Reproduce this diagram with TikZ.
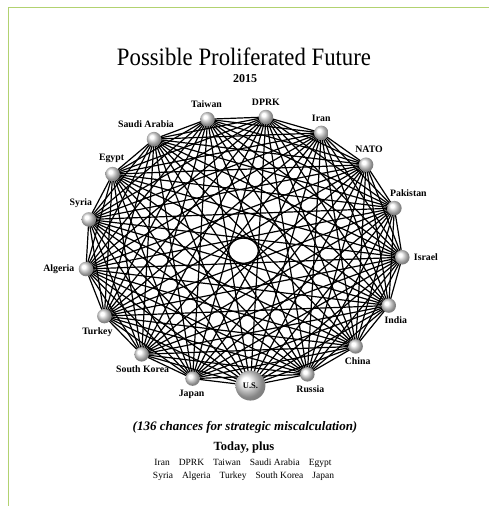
\documentclass[tikz,border=0pt]{standalone}
\usepackage{fontspec}
\setmainfont{Liberation Serif}
\usetikzlibrary{positioning,backgrounds}
\definecolor{frameGreen}{RGB}{178,210,112}
\pgfdeclareradialshading{orbshade}{\pgfpoint{-9bp}{9bp}}{%
  color(0bp)=(white); color(6bp)=(white); color(16bp)=(gray!55);
  color(24bp)=(gray!95); color(50bp)=(gray!70!black)}
\tikzset{
  orb/.style={circle, shading=orbshade, minimum size=14.5pt, inner sep=0pt},
  bigorb/.style={orb, minimum size=30pt, font=\fontsize{8.5}{9}\selectfont\bfseries},
  tag/.style={font=\fontsize{9.8}{11}\selectfont\bfseries, inner sep=2pt,
              label distance=2pt},
  lnk/.style={line width=1.2pt, black},
  heading/.style={anchor=base, inner sep=0pt},
}

\begin{document}
\begin{tikzpicture}[x=1pt, y=-1pt]
  \useasboundingbox (0,0) rectangle (489,506);
  % frame
  \draw[frameGreen, line width=1.6pt] (489,7.5) -- (8.5,7.5) -- (8.5,506);
  % titles
  \node[heading, xscale=0.91, font=\fontsize{25}{28}\selectfont] (title) at (244,65)
    {Possible Proliferated Future};
  \node[heading, font=\fontsize{12}{14}\selectfont\bfseries] (year) at (245,82) {2015};
  % the players
  \node[bigorb] (n0) at ({243.5+159*cos(-87.5)},{250.7-135*sin(-87.5)}) {U.S.};
  \foreach \lab/\side/\dx [count=\k] in {Russia/below/3, China/below/2,
      India/below/7, Israel/right/0, Pakistan/above/14, NATO/above/3,
      Iran/above/0, DPRK/above/0, Taiwan/above/-1, Saudi Arabia/above/-8,
      Egypt/above/-1, Syria/above/-8, Algeria/left/0, Turkey/below/-7,
      South Korea/below/1, Japan/below/-1} {
    \pgfmathsetmacro\a{-87.5+\k*360/17}
    \node[orb, label={[tag, xshift=\dx pt]\side:\lab}] (n\k)
      at ({243.5+159*cos(\a)},{250.7-135*sin(\a)}) {};
  }
  % every pair
  \begin{scope}[on background layer]
    \foreach \i in {0,...,15} {
      \pgfmathtruncatemacro\jfirst{\i+1}
      \foreach \j in {\jfirst,...,16}
        \draw[lnk] (n\i.center) -- (n\j.center);
    }
  \end{scope}
  % footer
  \node[heading, font=\fontsize{13}{15}\selectfont\bfseries\itshape] (tally)
    at (245,430) {(136 chances for strategic miscalculation)};
  \node[heading, font=\fontsize{12.5}{14}\selectfont\bfseries] (today)
    at (244,450) {Today, plus};
  \node[heading, font=\fontsize{9.5}{11}\selectfont] (row1) at (243,465)
    {Iran\hspace{9pt}DPRK\hspace{9pt}Taiwan\hspace{9pt}Saudi Arabia\hspace{9pt}Egypt};
  \node[heading, font=\fontsize{9.5}{11}\selectfont] (row2) at (243.5,478)
    {Syria\hspace{9pt}Algeria\hspace{9pt}Turkey\hspace{9pt}South Korea\hspace{9pt}Japan};
\end{tikzpicture}
\end{document}
